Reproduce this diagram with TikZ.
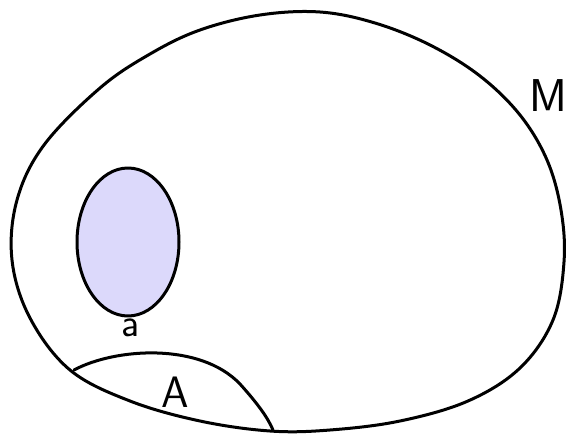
\documentclass[tikz,border=0pt]{standalone}
\usepackage{fontspec}
\usepackage{tikz}
\usetikzlibrary{positioning,calc}
\definecolor{setlilac}{HTML}{DCD9FB}

\begin{document}
\begin{tikzpicture}[
  x=1pt,y=-1pt,
  pen/.style={draw=black,line width=3pt,line cap=round,line join=round},
  lab/.style={font=\sffamily\fontsize{#1}{#1}\selectfont,inner sep=0pt}
]
  \useasboundingbox (0,0) rectangle (571,434);

  % outer region M
  \draw[pen] plot[smooth cycle,tension=0.6] coordinates {
    (100,88) (150,54) (200,30) (260,15) (320,12) (375,23) (430,45)
    (480,76) (520,115) (547,160) (561,210) (564,262) (553,320)
    (520,368) (468,401) (400,421) (330,430) (270,431) (200,421)
    (130,401) (70,370) (30,318) (12,260) (17,200) (44,145)};
  \node[lab=46] (labM) at (548,96) {M};

  % subset a
  \filldraw[pen,fill=setlilac] (128,242) ellipse [x radius=51,y radius=74];
  \node[lab=40] (laba) at (131,328) {a};

  % region A cut off at the bottom
  \coordinate (Aleft) at (74,370);
  \coordinate (Abot) at (273,430);
  \draw[pen] (Aleft) .. controls (115,348) and (200,342) .. (240,384)
                     .. controls (258,404) and (268,418) .. (Abot);
  \node[lab=44] (labA) at (175,392) {A};
\end{tikzpicture}
\end{document}
